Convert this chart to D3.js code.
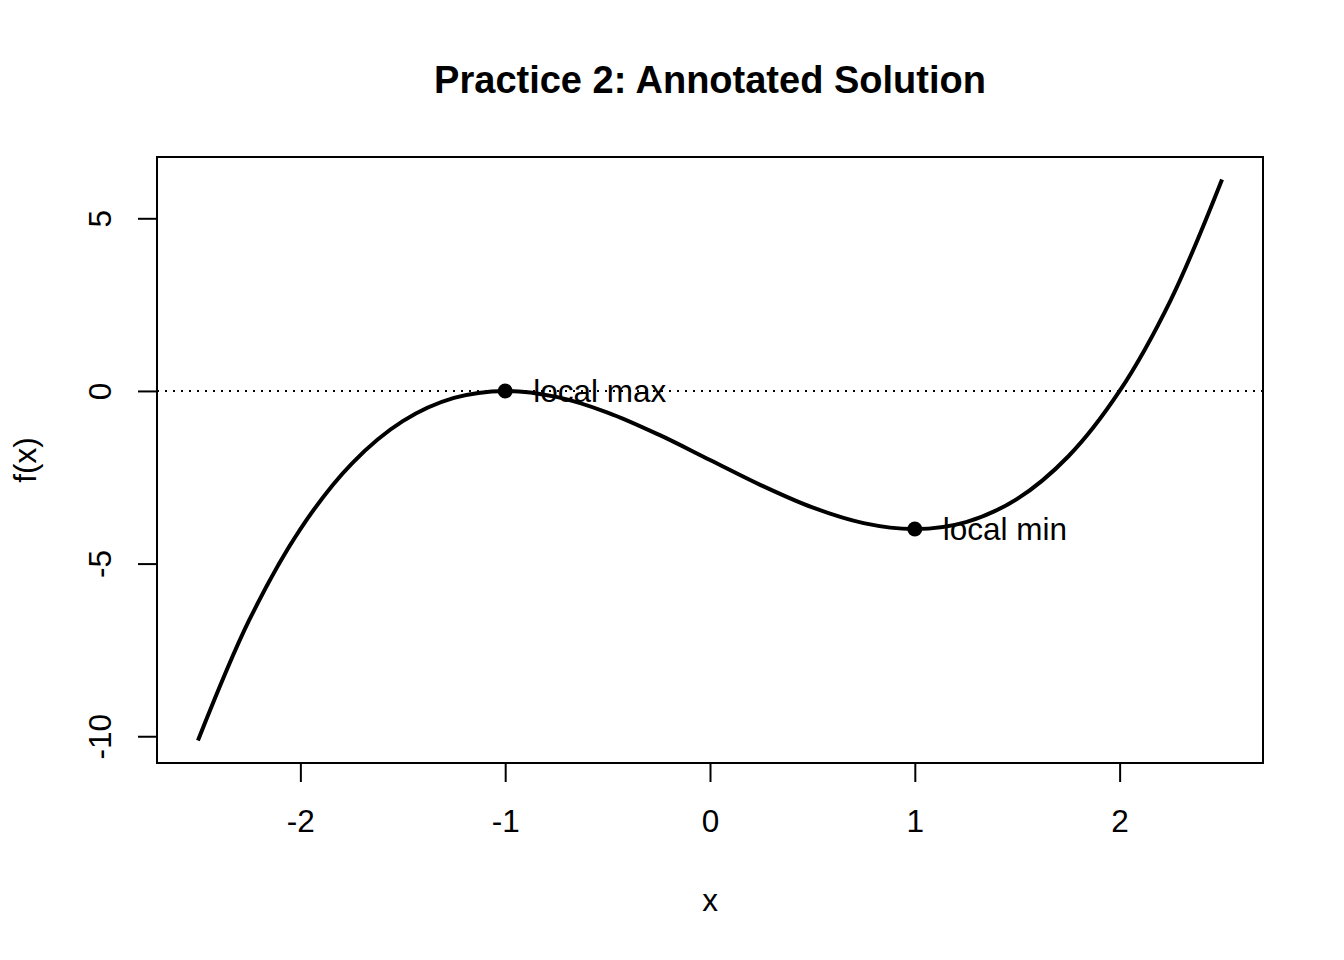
<!DOCTYPE html>
<html>
<head>
<meta charset="utf-8">
<script src="https://cdn.jsdelivr.net/npm/d3@7"></script>
<style>
  body { margin: 0; background: #fff; }
  svg text { font-family: "Liberation Sans", Arial, sans-serif; fill: #000; }
</style>
</head>
<body>
<div id="chart"></div>
<script>
// Punkter aflæst fra kurven
const xValues = [-2.5, -2.25, -2, -1.75, -1.5, -1.25, -1, -0.75, -0.5, -0.25, 0,
                 0.25, 0.5, 0.75, 1, 1.25, 1.5, 1.75, 2, 2.25, 2.5];
const yValues = [-10.125, -6.64, -4, -2.11, -0.875, -0.203, 0, -0.172, -0.625, -1.266, -2,
                 -2.734, -3.375, -3.828, -4, -3.797, -3.125, -1.891, 0, 2.64, 6.125];

// Markerede ekstrema
const pointX = [-1, 1];
const pointY = [0, -4];
const pointLabels = ["local max", "local min"];

const xTicks = [-2, -1, 0, 1, 2];
const yTicks = [-10, -5, 0, 5];

const w = 1344, h = 960;
const plotLeft = 157, plotRight = 1263, plotTop = 157, plotBottom = 763;
const fs = 31.5; // Skriftstørrelse

const svg = d3.select("#chart").append("svg")
  .attr("width", w).attr("height", h);

const x = d3.scaleLinear().domain([-2.7, 2.7]).range([plotLeft, plotRight]);
const y = d3.scaleLinear().domain([-10.775, 6.775]).range([plotBottom, plotTop]);

// Akser (almindelig bindestreg som minus)
const xAxis = svg.append("g")
  .attr("transform", `translate(0,${plotBottom})`)
  .call(d3.axisBottom(x).tickValues(xTicks).tickSize(19).tickPadding(28).tickFormat(d => String(d)));
xAxis.select(".domain").remove();
xAxis.selectAll("line").attr("stroke", "#000").attr("stroke-width", 2);
xAxis.selectAll("text").attr("font-size", fs).attr("font-family", null);

const yAxis = svg.append("g")
  .attr("transform", `translate(${plotLeft},0)`)
  .call(d3.axisLeft(y).tickValues(yTicks).tickSize(19).tickFormat(d => String(d)));
yAxis.select(".domain").remove();
yAxis.selectAll("line").attr("stroke", "#000").attr("stroke-width", 2);
yAxis.selectAll("text")
  .attr("font-size", fs).attr("font-family", null)
  .attr("x", null).attr("dy", null)
  .attr("text-anchor", "middle")
  .attr("transform", "translate(-57,0) rotate(-90)")
  .attr("dominant-baseline", "central");

// Ramme
svg.append("rect")
  .attr("x", plotLeft).attr("y", plotTop)
  .attr("width", plotRight - plotLeft).attr("height", plotBottom - plotTop)
  .attr("fill", "none").attr("stroke", "#000").attr("stroke-width", 2);

// Stiplet linje ved 0
svg.append("line")
  .attr("x1", plotLeft).attr("x2", plotRight)
  .attr("y1", y(0)).attr("y2", y(0))
  .attr("stroke", "#000").attr("stroke-width", 2)
  .attr("stroke-dasharray", "2,6");

// Kurve
const line = d3.line()
  .x(i => x(xValues[i]))
  .y(i => y(yValues[i]))
  .curve(d3.curveCatmullRom.alpha(0.5));

svg.append("path")
  .attr("d", line(d3.range(xValues.length)))
  .attr("fill", "none")
  .attr("stroke", "#000")
  .attr("stroke-width", 4);

// Punkter og etiketter
svg.selectAll("circle.pt")
  .data(pointX)
  .enter().append("circle")
  .attr("class", "pt")
  .attr("cx", d => x(d))
  .attr("cy", (d, i) => y(pointY[i]))
  .attr("r", 7.5)
  .attr("fill", "#000");

svg.selectAll("text.lbl")
  .data(pointLabels)
  .enter().append("text")
  .attr("class", "lbl")
  .attr("x", (d, i) => x(pointX[i]) + 28)
  .attr("y", (d, i) => y(pointY[i]))
  .attr("dy", "0.36em")
  .attr("font-size", fs)
  .text(d => d);

// Titel og aksetitler
svg.append("text")
  .attr("x", (plotLeft + plotRight) / 2).attr("y", 93)
  .attr("text-anchor", "middle")
  .attr("font-size", 38).attr("font-weight", "bold")
  .text("Practice 2: Annotated Solution");

svg.append("text")
  .attr("x", (plotLeft + plotRight) / 2).attr("y", 911)
  .attr("text-anchor", "middle")
  .attr("font-size", fs)
  .text("x");

svg.append("text")
  .attr("transform", `translate(36,${(plotTop + plotBottom) / 2}) rotate(-90)`)
  .attr("text-anchor", "middle")
  .attr("font-size", fs)
  .text("f(x)");
</script>
</body>
</html>
